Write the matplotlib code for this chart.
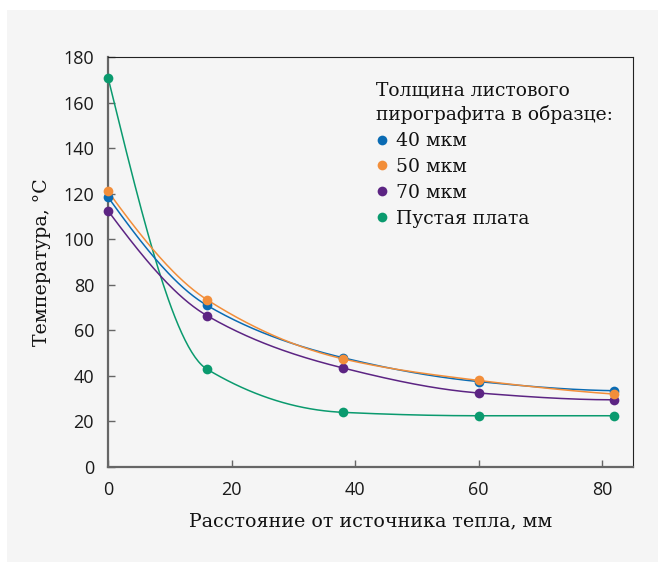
import numpy as np
import matplotlib
matplotlib.use("Agg")
import matplotlib.pyplot as plt
from matplotlib.patches import Rectangle
from matplotlib.lines import Line2D

distance = [0, 16, 38, 60, 82]
t40 = [118.5, 71, 48, 37.5, 33.5]
t50 = [121, 73.5, 47.5, 38, 32]
t70 = [112.5, 66.5, 43.5, 32.5, 29.5]
t_empty = [171, 43, 24, 22.5, 22.5]

labels = ["40 мкм", "50 мкм", "70 мкм", "Пустая плата"]
colors = ["#0a6bb3", "#f28e3a", "#5c2483", "#0a9a6e"]
legend_title = "Толщина листового\nпирографита в образце:"
xlabel = "Расстояние от источника тепла, мм"
ylabel = "Температура, °С"
xticks = [0, 20, 40, 60, 80]
yticks = [0, 20, 40, 60, 80, 100, 120, 140, 160, 180]

SERIF = "DejaVu Serif"
SANS = "Open Sans"
BG = "#f5f5f5"


def pchip(xs, ys, n=60):
    # monotone cubic Hermite curve through the points (smoothed line)
    x = np.asarray(xs, float)
    y = np.asarray(ys, float)
    h = np.diff(x)
    d = np.diff(y) / h
    m = np.zeros_like(y)
    for k in range(1, len(x) - 1):
        if d[k - 1] * d[k] <= 0:
            m[k] = 0
        else:
            w1 = 2 * h[k] + h[k - 1]
            w2 = h[k] + 2 * h[k - 1]
            m[k] = (w1 + w2) / (w1 / d[k - 1] + w2 / d[k])

    def endslope(h0, h1, d0, d1):
        s = ((2 * h0 + h1) * d0 - h0 * d1) / (h0 + h1)
        if np.sign(s) != np.sign(d0):
            s = 0
        elif np.sign(d0) != np.sign(d1) and abs(s) > abs(3 * d0):
            s = 3 * d0
        return s

    m[0] = endslope(h[0], h[1], d[0], d[1])
    m[-1] = endslope(h[-1], h[-2], d[-1], d[-2])
    X, Y = [], []
    for k in range(len(x) - 1):
        t = np.linspace(0, 1, n)
        h00 = 2 * t ** 3 - 3 * t ** 2 + 1
        h10 = t ** 3 - 2 * t ** 2 + t
        h01 = -2 * t ** 3 + 3 * t ** 2
        h11 = t ** 3 - t ** 2
        X.append(x[k] + t * h[k])
        Y.append(h00 * y[k] + h10 * h[k] * m[k] + h01 * y[k + 1] + h11 * h[k] * m[k + 1])
    return np.concatenate(X), np.concatenate(Y)


fig = plt.figure(figsize=(6.58, 5.62), dpi=100, facecolor="white")
fig.patches.append(Rectangle((7 / 658, 0), 1, 1 - 10 / 562, transform=fig.transFigure,
                             facecolor=BG, edgecolor="none", zorder=-10))

W, H = 658, 562
left, right, top, bottom = 108, 633, 57, 467
ax = fig.add_axes([left / W, 1 - bottom / H, (right - left) / W, (bottom - top) / H])
ax.set_facecolor(BG)

series = [t40, t50, t70, t_empty]
order = [3, 2, 0, 1]
for k in order:
    ys = series[k]
    sx, sy = pchip(distance, ys)
    ax.plot(sx, sy, color=colors[k], lw=1.1, zorder=2, clip_on=False)
    ax.plot(distance, ys, "o", color=colors[k], ms=7, zorder=3, clip_on=False, mec="none")

ax.set_xlim(0, 85)
ax.set_ylim(0, 180)
ax.set_xticks(xticks)
ax.set_yticks(yticks)
ax.tick_params(direction="in", length=5, width=1, color="#666666", labelsize=13,
               labelcolor="#1a1a1a", pad=10)
for lab in ax.get_xticklabels() + ax.get_yticklabels():
    lab.set_family(SANS)
for s in ["left", "bottom"]:
    ax.spines[s].set_color("#666666")
    ax.spines[s].set_linewidth(1.6)
for s in ["top", "right"]:
    ax.spines[s].set_color("#222222")
    ax.spines[s].set_linewidth(0.8)

ax.set_xlabel(xlabel, family=SERIF, fontsize=13.7, color="#111111", labelpad=10)
ax.set_ylabel(ylabel, family=SERIF, fontsize=13.7, color="#111111", labelpad=9)

handles = [Line2D([], [], ls="none", marker="o", ms=7, color=c, mec="none") for c in colors]
leg = ax.legend(handles, labels, title=legend_title, loc="upper left",
                bbox_to_anchor=((376 - left) / (right - left), 1 - (81 - top) / (bottom - top)),
                frameon=False, handlelength=0.6, handletextpad=0.45, labelspacing=0.42,
                borderpad=0, borderaxespad=0, alignment="left",
                prop={"family": SERIF, "size": 13.5},
                title_fontproperties={"family": SERIF, "size": 13.5})
leg.get_title().set_linespacing(1.42)
for t in leg.get_texts():
    t.set_color("#111111")
leg.get_title().set_color("#111111")

fig.savefig("out.png", dpi=100, facecolor="white")
